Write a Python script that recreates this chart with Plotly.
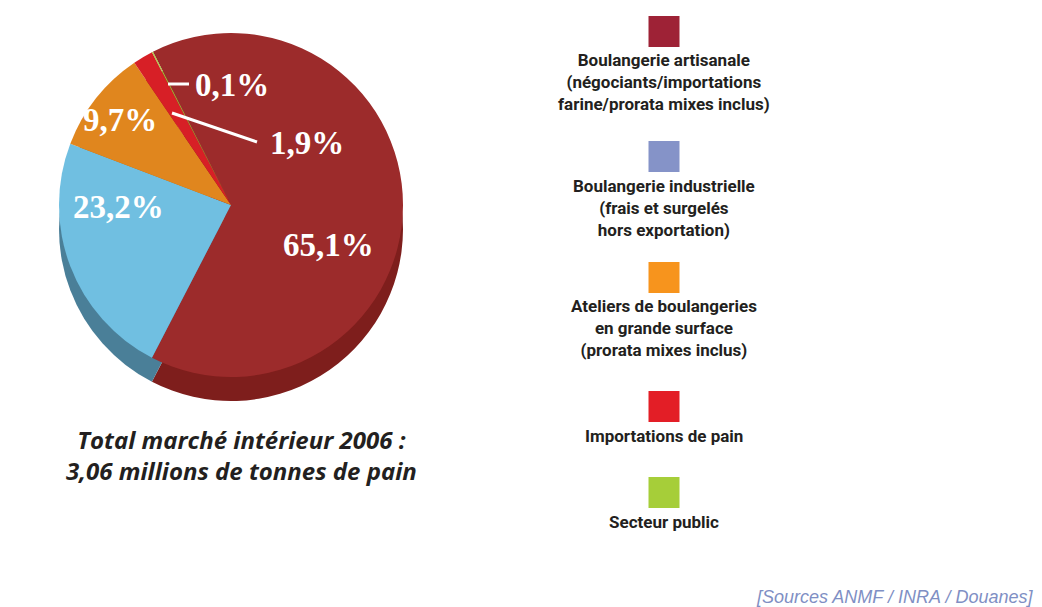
import plotly.graph_objects as go

W, H = 1042, 607
OFF = 8  # default page margin of the HTML body
FW, FH = W - OFF, H - OFF

categories = [
    "Boulangerie artisanale",
    "Boulangerie industrielle",
    "Ateliers de boulangeries en grande surface",
    "Importations de pain",
    "Secteur public",
]
values = [65.1, 23.2, 9.7, 1.9, 0.1]
pct_labels = ["65,1%", "23,2%", "9,7%", "1,9%", "0,1%"]

top_colors = ["#9C2B2B", "#70BFE1", "#E0861E", "#D71F26", "#A6C83A"]
side_colors = ["#7E1E1C", "#4A7F98", "#B56A15", "#A5181C", "#7F9A2C"]
legend_colors = ["#9E2236", "#8593C8", "#F7941D", "#E31E26", "#A6CE39"]
legend_texts = [
    "Boulangerie artisanale<br>(négociants/importations<br>farine/prorata mixes inclus)",
    "Boulangerie industrielle<br>(frais et surgelés<br>hors exportation)",
    "Ateliers de boulangeries<br>en grande surface<br>(prorata mixes inclus)",
    "Importations de pain",
    "Secteur public",
]
caption = "Total marché intérieur 2006 :<br>3,06 millions de tonnes de pain"
source = "[Sources ANMF / INRA / Douanes]"


def px(x):
    return (x - OFF) / FW


def py(y):
    return 1 - (y - OFF) / FH


cx, cy, r, depth = 231, 205, 172, 24

fig = go.Figure()
# "thickness" of the pie (darker copy, shifted down)
fig.add_trace(go.Pie(
    labels=categories, values=values, sort=False, direction="clockwise",
    rotation=-27, marker=dict(colors=side_colors, line=dict(width=0)),
    textinfo="none", hoverinfo="skip", showlegend=False,
    domain=dict(x=[px(cx - r), px(cx + r)], y=[py(cy + r + depth), py(cy - r + depth)]),
))
# top face
fig.add_trace(go.Pie(
    labels=categories, values=values, sort=False, direction="clockwise",
    rotation=-27, marker=dict(colors=top_colors, line=dict(width=0)),
    textinfo="none", showlegend=False,
    domain=dict(x=[px(cx - r), px(cx + r)], y=[py(cy + r), py(cy - r)]),
))

annotations = []
shapes = []

# percentage labels on the pie
label_pos = [(328, 245), (118, 207), (120, 120), (307, 143), (232, 85)]
for (x, y), t in zip(label_pos, pct_labels):
    annotations.append(dict(
        x=px(x), y=py(y), xref="paper", yref="paper", text="<b>" + t + "</b>", showarrow=False,
        font=dict(family="Liberation Serif, DejaVu Serif, serif", size=33, color="white"),
        xanchor="center", yanchor="middle",
    ))
# leader lines
shapes.append(dict(type="line", xref="paper", yref="paper",
                   x0=px(172), y0=py(113), x1=px(257), y1=py(142),
                   line=dict(color="white", width=3)))
shapes.append(dict(type="line", xref="paper", yref="paper",
                   x0=px(168), y0=py(84), x1=px(189), y1=py(84),
                   line=dict(color="white", width=3)))

# custom legend: squares above centred text
sq_tops = [16, 141, 262, 391, 477]
text_tops = [48, 174, 294, 424, 510]
lx, s = 664, 31
for c, t, st, tt in zip(legend_colors, legend_texts, sq_tops, text_tops):
    shapes.append(dict(type="rect", xref="paper", yref="paper",
                       x0=px(lx - s / 2), x1=px(lx + s / 2), y0=py(st + s), y1=py(st),
                       fillcolor=c, line=dict(width=0)))
    annotations.append(dict(
        x=px(lx), y=py(tt), xref="paper", yref="paper", text="<b>" + t + "</b>",
        showarrow=False, xanchor="center", yanchor="top", align="center",
        font=dict(family="Roboto, Arial, sans-serif", size=17, color="#231F20"),
    ))

annotations.append(dict(
    x=px(241), y=py(455), xref="paper", yref="paper", text="<b><i>" + caption + "</i></b>",
    showarrow=False, xanchor="center", yanchor="middle", align="center",
    font=dict(family="Open Sans, Lato, sans-serif", size=24, color="#231F20"),
))
annotations.append(dict(
    x=px(1035), y=py(597), xref="paper", yref="paper", text="<i>" + source + "</i>",
    showarrow=False, xanchor="right", yanchor="middle",
    font=dict(family="Liberation Sans, Arial, sans-serif", size=18, color="#7F8FC4"),
))

fig.update_layout(
    width=FW, height=FH, margin=dict(l=0, r=0, t=0, b=0),
    paper_bgcolor="white", plot_bgcolor="white",
    annotations=annotations, shapes=shapes, showlegend=False,
)

fig.write_html("out.html")
